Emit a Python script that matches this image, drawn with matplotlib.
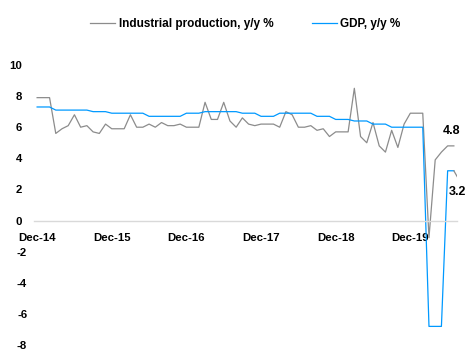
import numpy as np
import matplotlib
matplotlib.use("Agg")
import matplotlib.pyplot as plt
from matplotlib.transforms import ScaledTranslation

# monthly, Dec-14 .. Jul-20 (industrial production) / Aug-20 (GDP)
ip = [7.9, 7.9, 7.9, 5.6, 5.9, 6.1, 6.8, 6.0, 6.1, 5.7, 5.6, 6.2,
      5.9, 5.9, 5.9, 6.8, 6.0, 6.0, 6.2, 6.0, 6.3, 6.1, 6.1, 6.2,
      6.0, 6.0, 6.0, 7.6, 6.5, 6.5, 7.6, 6.4, 6.0, 6.6, 6.2, 6.1,
      6.2, 6.2, 6.2, 6.0, 7.0, 6.8, 6.0, 6.0, 6.1, 5.8, 5.9, 5.4,
      5.7, 5.7, 5.7, 8.5, 5.4, 5.0, 6.3, 4.8, 4.4, 5.8, 4.7, 6.2,
      6.9, 6.9, 6.9, -1.1, 3.9, 4.4, 4.8, 4.8]
gdp = [7.3, 7.3, 7.3, 7.1, 7.1, 7.1, 7.1, 7.1, 7.1, 7.0, 7.0, 7.0,
       6.9, 6.9, 6.9, 6.9, 6.9, 6.9, 6.7, 6.7, 6.7, 6.7, 6.7, 6.7,
       6.9, 6.9, 6.9, 7.0, 7.0, 7.0, 7.0, 7.0, 7.0, 6.9, 6.9, 6.9,
       6.7, 6.7, 6.7, 6.9, 6.9, 6.9, 6.9, 6.9, 6.9, 6.7, 6.7, 6.7,
       6.5, 6.5, 6.5, 6.4, 6.4, 6.4, 6.2, 6.2, 6.2, 6.0, 6.0, 6.0,
       6.0, 6.0, 6.0, -6.8, -6.8, -6.8, 3.2, 3.2, 2.5]
tick_pos = [0, 12, 24, 36, 48, 60]
tick_labels = ["Dec-14", "Dec-15", "Dec-16", "Dec-17", "Dec-18", "Dec-19"]
yticks = [-8, -6, -4, -2, 0, 2, 4, 6, 8, 10]

plt.rcParams['font.family'] = ['Liberation Sans', 'DejaVu Sans']
plt.rcParams['font.weight'] = 'bold'

fig = plt.figure(figsize=(4.71, 3.55), dpi=100)
ax = fig.add_axes([0.0722, 0.028, 0.898, 0.789])

grey = '#8c8c8c'
blue = '#0099ff'
x_ip = np.arange(len(ip))
x_gdp = np.arange(len(gdp))
ax.plot(x_ip, ip, color=grey, lw=0.9, label="Industrial production, y/y %")
ax.plot(x_gdp[:-1], gdp[:-1], color=blue, lw=0.9, label="GDP, y/y %")
ax.plot(x_gdp[-2:], gdp[-2:], color=grey, lw=0.9)

ax.set_xlim(-0.5, 67.5)
ax.set_ylim(-8, 10)
for s in ['top', 'right', 'left']:
    ax.spines[s].set_visible(False)
ax.spines['bottom'].set_position(('data', 0))
ax.spines['bottom'].set_color('#d9d9d9')
ax.spines['bottom'].set_linewidth(1)

ax.set_xticks(tick_pos)
ax.set_xticklabels(tick_labels)
ax.set_yticks(yticks)
ax.set_yticklabels([str(v) for v in yticks])
ax.tick_params(axis='x', length=0, pad=9, labelsize=8.2)
ax.tick_params(axis='y', length=0, pad=8.5, labelsize=8.2)
for lab, v in zip(ax.get_yticklabels(), yticks):
    if v < 0:
        lab.set_transform(lab.get_transform() + ScaledTranslation(5 / 100, 0, fig.dpi_scale_trans))

ax.annotate("4.8", xy=(len(ip) - 1, ip[-1]), xytext=(-1.5, 10.5), textcoords='offset points',
            ha='center', va='center', fontsize=9, fontweight='bold')
ax.annotate("3.2", xy=(len(gdp) - 2, gdp[-2]), xytext=(2.5, -15), textcoords='offset points',
            ha='center', va='center', fontsize=9, fontweight='bold', annotation_clip=False)

leg = fig.legend(loc='center', bbox_to_anchor=(245.5 / 471, 1 - 24 / 355), ncol=2, frameon=False,
                 fontsize=8.5, handlelength=2.1, handletextpad=0.3, columnspacing=3.3)

fig.savefig("out.png", dpi=100)
